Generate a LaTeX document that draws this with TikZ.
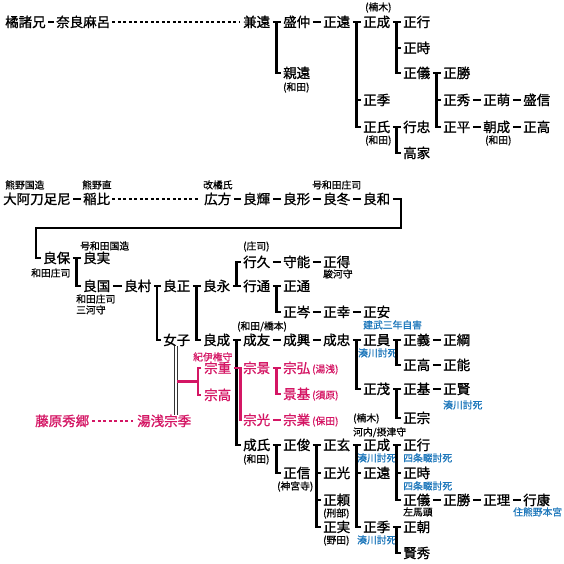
\documentclass[tikz,border=0pt]{standalone}
\usepackage{fontspec}
\newfontfamily\jp{Noto Sans CJK JP}[FakeBold=1.2]
\newfontfamily\jps{Noto Sans CJK JP}[FakeBold=0.8]
\usetikzlibrary{calc}
\definecolor{pinkc}{RGB}{212,22,100}
\definecolor{bluec}{RGB}{28,118,186}
\tikzset{
  nm/.style={anchor=west, inner sep=0pt, font=\jp\fontsize{13.5}{14}\selectfont, text height=10.8pt, text depth=0.7pt},
  sm/.style={anchor=west, inner sep=0pt, font=\jps\fontsize{9.8}{10}\selectfont, text height=7.8pt, text depth=0.5pt},
  pk/.style={text=pinkc},
  bl/.style={text=bluec},
  ln/.style={line width=2.5pt},
  pln/.style={line width=2.5pt, draw=pinkc},
  dotln/.style={line width=1.7pt, dash pattern=on 3pt off 2.5pt},
}
\newcommand\fmdash[3][ln]{\draw[#1] ([xshift=2.4pt]#2.east) -- ([xshift=-2.4pt]#3.west);}
\newcommand\fmbr[4][ln]{%
  \draw[#1] ([xshift=2.4pt]#2.east) -- ([xshift=-2.4pt]#3.west);
  \foreach \cc in {#4} {\draw[#1] ($(#2.east)!0.5!(#3.west)$) |- ([xshift=-2.4pt]\cc.west);}
}
\begin{document}
\begin{tikzpicture}[x=1pt,y=-1pt]
\useasboundingbox (0,0) rectangle (564,563);
% ---------- row 1
\node[nm] (tachibana) at (5,22) {橘諸兄};
\node[nm] (naramaro) at (56,22) {奈良麻呂};
\node[nm] (kanetoo) at (243,22) {兼遠};
\node[nm] (morinaka) at (283,22) {盛仲};
\node[nm] (chikatoo) at (283,73) {親遠};
\node[nm] (masatooA) at (323,22) {正遠};
\node[nm] (masashigeA) at (363,22) {正成};
\node[nm] (masasueA) at (363,100) {正季};
\node[nm] (masaujiA) at (363,127) {正氏};
\node[nm] (masatsuraA) at (403,22) {正行};
\node[nm] (masatokiA) at (403,48) {正時};
\node[nm] (masanoriA) at (403,73) {正儀};
\node[nm] (masakatsuA) at (443,73) {正勝};
\node[nm] (masahideA) at (443,100) {正秀};
\node[nm] (masamoeA) at (483,100) {正萌};
\node[nm] (morinobuA) at (523,100) {盛信};
\node[nm] (masahiraA) at (443,127) {正平};
\node[nm] (tomonariA) at (483,127) {朝成};
\node[nm] (masatakaA) at (523,127) {正高};
\node[nm] (yukitadaA) at (403,127) {行忠};
\node[nm] (takaieA) at (403,153) {高家};
\node[sm] (s1) at (365,7) {(楠木)};
\node[sm] (s2) at (283,87) {(和田)};
\node[sm] (s3) at (365,140) {(和田)};
\node[sm] (s4) at (485,140) {(和田)};
\fmdash{tachibana}{naramaro}
\draw[dotln] ([xshift=2pt]naramaro.east) -- ([xshift=-3pt]kanetoo.west);
\fmbr{kanetoo}{morinaka}{chikatoo}
\fmdash{morinaka}{masatooA}
\fmbr{masatooA}{masashigeA}{masasueA,masaujiA}
\fmbr{masashigeA}{masatsuraA}{masatokiA,masanoriA}
\fmbr{masanoriA}{masakatsuA}{masahideA,masahiraA}
\fmdash{masahideA}{masamoeA}
\fmdash{masamoeA}{morinobuA}
\fmdash{masahiraA}{tomonariA}
\fmdash{tomonariA}{masatakaA}
\fmbr{masaujiA}{yukitadaA}{takaieA}
% ---------- row 2
\node[nm] (ooato) at (3,199) {大阿刀足尼};
\node[nm] (inabi) at (83,199) {稲比};
\node[nm] (hirokata) at (204,199) {広方};
\node[nm] (yoshiteru) at (243,199) {良輝};
\node[nm] (yoshikata) at (283,199) {良形};
\node[nm] (yoshifuyu) at (323,199) {良冬};
\node[nm] (yoshikazu) at (363,199) {良和};
\node[sm] (s5) at (5,185) {熊野国造};
\node[sm] (s6) at (82,185) {熊野直};
\node[sm] (s7) at (203,185) {改橘氏};
\node[sm] (s8) at (312,185) {号和田庄司};
\fmdash{ooato}{inabi}
\draw[dotln] ([xshift=2pt]inabi.east) -- ([xshift=-6pt]hirokata.west);
\fmdash{hirokata}{yoshiteru}
\fmdash{yoshiteru}{yoshikata}
\fmdash{yoshikata}{yoshifuyu}
\fmdash{yoshifuyu}{yoshikazu}
% ---------- middle
\node[nm] (yoshiyasu) at (43,258) {良保};
\node[nm] (yoshizane) at (83,258) {良実};
\node[nm] (yoshikuni) at (83,286) {良国};
\node[nm] (yoshimura) at (124,286) {良村};
\node[nm] (yoshimasa) at (163,286) {良正};
\node[nm] (joshi) at (163,340) {女子};
\node[nm] (yoshinaga) at (203,286) {良永};
\node[nm] (yoshinari) at (203,340) {良成};
\node[nm] (yukihisa) at (243,262) {行久};
\node[nm] (yukimichi) at (243,286) {行通};
\node[nm] (morinori) at (283,262) {守能};
\node[nm] (masae) at (323,262) {正得};
\node[nm] (masamichi) at (283,286) {正通};
\node[nm] (masamine) at (283,312) {正岑};
\node[nm] (masayuki) at (323,312) {正幸};
\node[nm] (masayasu) at (363,312) {正安};
\node[sm] (s9) at (31,273) {和田庄司};
\node[sm] (s10) at (80,246) {号和田国造};
\node[sm] (s11) at (76,299) {和田庄司};
\node[sm] (s12) at (76,310) {三河守};
\node[sm] (s13) at (243,246) {(庄司)};
\node[sm] (s14) at (323,274) {駿河守};
\node[sm,bl] (s15) at (363,325) {建武三年自害};
\coordinate (k1) at (401,228);
\coordinate (k2) at (36,228);
\draw[ln] ([xshift=2.4pt]yoshikazu.east) -| (k1) -- (k2) |- ([xshift=-2.4pt]yoshiyasu.west);
\fmbr{yoshiyasu}{yoshizane}{yoshikuni}
\fmdash{yoshikuni}{yoshimura}
\fmbr{yoshimura}{yoshimasa}{joshi}
\fmbr{yoshimasa}{yoshinaga}{yoshinari}
\fmbr{yoshinaga}{yukimichi}{yukihisa}
\fmdash{yukihisa}{morinori}
\fmdash{morinori}{masae}
\fmbr{yukimichi}{masamichi}{masamine}
\fmdash{masamine}{masayuki}
\fmdash{masayuki}{masayasu}
% ---------- Wada / Hashimoto
\node[nm] (naritomo) at (243,340) {成友};
\node[nm] (narioki) at (283,340) {成興};
\node[nm] (naritada) at (323,340) {成忠};
\node[nm] (masakazu) at (363,340) {正員};
\node[nm] (masayoshi) at (403,340) {正義};
\node[nm] (masatsuna) at (443,340) {正綱};
\node[nm] (masatakaB) at (403,365) {正高};
\node[nm] (masayoshiB) at (443,365) {正能};
\node[nm] (masashigeru) at (363,389) {正茂};
\node[nm] (masamoto) at (403,389) {正基};
\node[nm] (masakata) at (443,389) {正賢};
\node[nm] (masamune) at (403,418) {正宗};
\node[sm] (s16) at (237,326) {(和田/橋本)};
\node[sm,bl] (s17) at (358,353) {湊川討死};
\node[sm,bl] (s18) at (443,405) {湊川討死};
\fmdash{naritomo}{narioki}
\fmdash{narioki}{naritada}
\fmbr{naritada}{masakazu}{masashigeru}
\fmbr{masakazu}{masayoshi}{masatakaB}
\fmdash{masayoshi}{masatsuna}
\fmdash{masatakaB}{masayoshiB}
\fmbr{masashigeru}{masamoto}{masamune}
\fmdash{masamoto}{masakata}
% ---------- lower
\node[nm] (nariuji) at (243,445) {成氏};
\node[nm] (masatoshi) at (283,445) {正俊};
\node[nm] (masanobu) at (283,473) {正信};
\node[nm] (masaharu) at (323,445) {正玄};
\node[nm] (masamitsu) at (323,473) {正光};
\node[nm] (masayori) at (323,500) {正頼};
\node[nm] (masazane) at (323,527) {正実};
\node[nm] (masashigeB) at (363,445) {正成};
\node[nm] (masatooB) at (363,473) {正遠};
\node[nm] (masasueB) at (363,527) {正季};
\node[nm] (masatsuraB) at (403,445) {正行};
\node[nm] (masatokiB) at (403,473) {正時};
\node[nm] (masanoriB) at (403,500) {正儀};
\node[nm] (masakatsuB) at (443,500) {正勝};
\node[nm] (masamichiB) at (483,500) {正理};
\node[nm] (yukiyasu) at (523,500) {行康};
\node[nm] (masatomo) at (403,527) {正朝};
\node[nm] (katahide) at (403,553) {賢秀};
\node[sm] (s19) at (243,459) {(和田)};
\node[sm] (s20) at (277,486) {(神宮寺)};
\node[sm] (s21) at (323,513) {(刑部)};
\node[sm] (s22) at (323,540) {(野田)};
\node[sm] (s23) at (353,418) {(楠木)};
\node[sm] (s24) at (353,432) {河内/摂津守};
\node[sm,bl] (s25) at (357,458) {湊川討死};
\node[sm,bl] (s26) at (403,458) {四条畷討死};
\node[sm,bl] (s27) at (403,486) {四条畷討死};
\node[sm] (s28) at (403,512) {左馬頭};
\node[sm,bl] (s29) at (513,512) {住熊野本宮};
\node[sm,bl] (s30) at (357,540) {湊川討死};
\fmbr{yoshinari}{naritomo}{nariuji}
\fmbr{nariuji}{masatoshi}{masanobu}
\fmbr{masatoshi}{masaharu}{masamitsu,masayori,masazane}
\fmbr{masaharu}{masashigeB}{masatooB,masasueB}
\fmbr{masashigeB}{masatsuraB}{masatokiB,masanoriB}
\fmdash{masanoriB}{masakatsuB}
\fmdash{masakatsuB}{masamichiB}
\fmdash{masamichiB}{yukiyasu}
\fmbr{masasueB}{masatomo}{katahide}
% ---------- Yuasa (pink)
\node[sm,pk] (kiigon) at (193,357) {紀伊権守};
\node[nm,pk] (munesige) at (204,368) {宗重};
\node[nm,pk] (munetaka) at (204,395) {宗高};
\node[nm,pk] (munekage) at (243,368) {宗景};
\node[nm,pk] (munehiro) at (283,368) {宗弘};
\node[nm,pk] (kagemoto) at (283,394) {景基};
\node[nm,pk] (munemitsu) at (243,420) {宗光};
\node[nm,pk] (munenari) at (283,420) {宗業};
\node[sm,pk] (s31) at (312,369) {(湯浅)};
\node[sm,pk] (s32) at (312,395) {(須原)};
\node[sm,pk] (s33) at (312,421) {(保田)};
\node[nm,pk] (fujiwara) at (35,421) {藤原秀郷};
\node[nm,pk] (yuasa) at (137,421) {湯浅宗季};
\draw[line width=0.8pt, draw=black!80, double, double distance=2.4pt] ([xshift=-1pt]joshi.south) -- ([xshift=-1pt]joshi.south |- yuasa.north);
\coordinate (pm) at ($(munesige.west)!0.5!(munetaka.west)$);
\draw[pln] ([xshift=-2.6pt]munesige.west) -- ++(-3.4pt,0) |- ([xshift=-2.6pt]munetaka.west);
\draw[pln] ([xshift=-6pt]pm) -- ($(joshi.south |- pm)+(0.6pt,0)$);
\draw[pln] ([xshift=2.4pt]munesige.east) -- ([xshift=-1pt]munekage.west);
\draw[pln] ([xshift=-2.4pt]munekage.west) |- ([xshift=-0.8pt]munemitsu.west);
\fmbr[pln]{munekage}{munehiro}{kagemoto}
\fmdash[pln]{munemitsu}{munenari}
\draw[dotln, draw=pinkc] ([xshift=3pt]fujiwara.east) -- ([xshift=-4pt]yuasa.west);
\end{tikzpicture}
\end{document}
